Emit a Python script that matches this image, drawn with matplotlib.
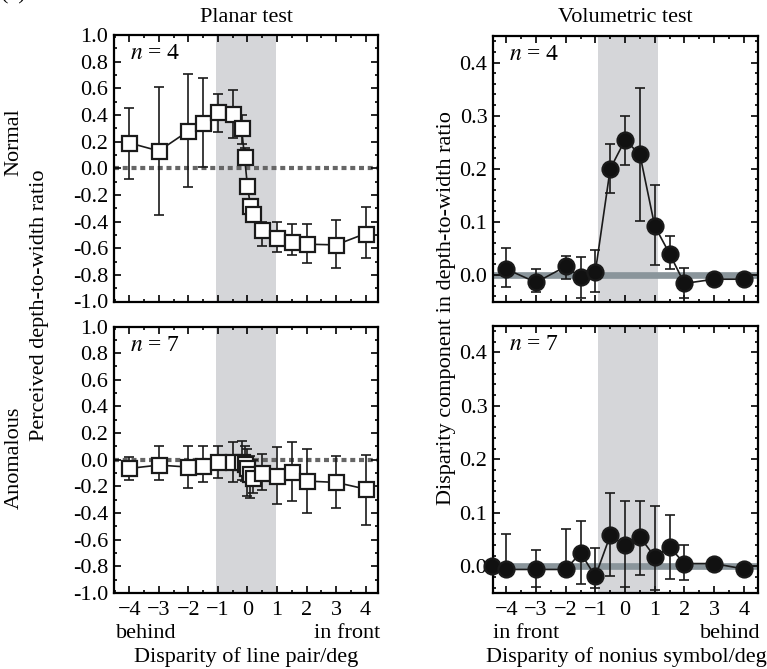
import matplotlib
matplotlib.use('Agg')
import matplotlib.pyplot as plt
from matplotlib.ticker import MultipleLocator, FormatStrFormatter

plt.rcParams['font.family'] = ['Liberation Serif', 'DejaVu Serif']
plt.rcParams['mathtext.fontset'] = 'stix'
plt.rcParams['font.size'] = 16

# planar test (line pair disparity)
planar_x = [-4, -3, -2, -1.5, -1, -0.5, -0.2, -0.1, 0, 0.1, 0.2, 0.5, 1, 1.5, 2, 3, 4]
normal_planar = [0.19, 0.13, 0.28, 0.34, 0.42, 0.41, 0.30, 0.085, -0.135, -0.28, -0.34,
                 -0.46, -0.52, -0.55, -0.57, -0.575, -0.49]
normal_planar_hi = [0.455, 0.61, 0.71, 0.68, 0.56, 0.59, 0.40, 0.15, -0.09, -0.25, -0.31,
                    -0.40, -0.40, -0.42, -0.42, -0.39, -0.29]
normal_planar_lo = [-0.08, -0.35, -0.14, 0.01, 0.275, 0.225, 0.18, 0.03, -0.18, -0.31, -0.37,
                    -0.58, -0.63, -0.65, -0.71, -0.75, -0.675]
anom_planar = [-0.065, -0.04, -0.055, -0.045, -0.02, -0.02, -0.02, -0.03, -0.06, -0.11, -0.14,
               -0.10, -0.12, -0.09, -0.16, -0.17, -0.22]
anom_planar_hi = [0.02, 0.10, 0.10, 0.10, 0.10, 0.13, 0.14, 0.10, 0.08, 0.03, 0.0,
                  0.045, 0.095, 0.13, 0.08, 0.025, 0.035]
anom_planar_lo = [-0.15, -0.15, -0.21, -0.17, -0.14, -0.17, -0.15, -0.16, -0.27, -0.29, -0.25,
                  -0.23, -0.33, -0.31, -0.40, -0.36, -0.49]

# volumetric test (nonius symbol disparity)
vol_x_normal = [-4, -3, -2, -1.5, -1, -0.5, 0, 0.5, 1, 1.5, 2, 3, 4]
normal_vol = [0.011, -0.014, 0.016, -0.004, 0.006, 0.20, 0.254, 0.227, 0.092, 0.04, -0.016,
              -0.008, -0.008]
normal_vol_hi = [0.05, 0.011, 0.036, 0.034, 0.047, 0.247, 0.30, 0.352, 0.17, 0.074, 0.0125,
                 -0.008, -0.008]
normal_vol_lo = [-0.023, -0.033, -0.008, -0.044, -0.033, 0.154, 0.2075, 0.102, 0.019, 0.011,
                 -0.0425, -0.008, -0.008]

vol_x_anom = [-4.5, -4, -3, -2, -1.5, -1, -0.5, 0, 0.5, 1, 1.5, 2, 3, 4]
anom_vol = [0.0, -0.006, -0.006, -0.006, 0.025, -0.019, 0.0575, 0.039, 0.055, 0.0175, 0.036,
            0.005, 0.005, -0.005]
anom_vol_hi = [0.0, 0.061, 0.03, 0.069, 0.084, 0.034, 0.136, 0.122, 0.122, 0.1125, 0.095,
               0.04, 0.005, -0.005]
anom_vol_lo = [0.0, -0.01, -0.039, -0.01, -0.034, -0.04, -0.0175, -0.039, -0.016, -0.044,
               -0.024, -0.025, 0.005, -0.005]

W, H = 767, 669


def box(x0, y0, x1, y1):
    return [x0 / W, 1 - y1 / H, (x1 - x0) / W, (y1 - y0) / H]


def ftext(x, y, s, **kw):
    fig.text(x / W, 1 - y / H, s, **kw)


def style_axes(ax, major, minor, show_x):
    ax.xaxis.set_major_locator(MultipleLocator(1))
    ax.xaxis.set_minor_locator(MultipleLocator(0.5))
    ax.yaxis.set_major_locator(MultipleLocator(major))
    ax.yaxis.set_minor_locator(MultipleLocator(minor))
    ax.yaxis.set_major_formatter(FormatStrFormatter('%.1f'))
    ax.tick_params(which='both', direction='in', top=True, right=True, width=1.2,
                   labelsize=16, pad=4)
    ax.tick_params(which='major', length=5)
    ax.tick_params(which='minor', length=2.5)
    ax.tick_params(axis='x', labelbottom=show_x, pad=6)
    for sp in ax.spines.values():
        sp.set_linewidth(1.6)


def draw(ax, x, y, lo, hi, marker, face, ms):
    yerr = [[v - l for v, l in zip(y, lo)], [h - v for v, h in zip(y, hi)]]
    ax.errorbar(x, y, yerr=yerr, fmt='none', ecolor='#1a1a1a', elinewidth=1.2,
                capsize=3.5, capthick=1.2, zorder=3)
    ax.plot(x, y, color='#1a1a1a', lw=1.2, marker=marker, ms=ms, mfc=face,
            mec='#1a1a1a', mew=1.6, zorder=4, clip_on=False)


fig = plt.figure(figsize=(W / 100, H / 100), dpi=100)

ax_np = fig.add_axes(box(114, 35, 378, 301.5))
ax_ap = fig.add_axes(box(114, 326.5, 378, 593))
ax_nv = fig.add_axes(box(493, 36, 758, 301.5))
ax_av = fig.add_axes(box(493, 325.5, 758, 593))

for ax, y, lo, hi, show in [(ax_np, normal_planar, normal_planar_lo, normal_planar_hi, False),
                            (ax_ap, anom_planar, anom_planar_lo, anom_planar_hi, True)]:
    ax.axvspan(-1.05, 0.95, color='#d5d6d9', lw=0, zorder=0)
    ax.axhline(0, color='#666666', lw=3.0, ls=(0, (1.2, 0.9)), zorder=1)
    draw(ax, planar_x, y, lo, hi, 's', 'white', 10.8)
    ax.set_xlim(-4.52, 4.42)
    ax.set_ylim(-1.0, 1.0)
    style_axes(ax, 0.2, 0.1, show)

for ax, x, y, lo, hi, show in [(ax_nv, vol_x_normal, normal_vol, normal_vol_lo, normal_vol_hi, False),
                               (ax_av, vol_x_anom, anom_vol, anom_vol_lo, anom_vol_hi, True)]:
    ax.axvspan(-0.9, 1.1, color='#d5d6d9', lw=0, zorder=0)
    ax.axhline(0, color='#8a959b', lw=4.8, zorder=1)
    draw(ax, x, y, lo, hi, 'o', '#111111', 11.5)
    ax.set_xlim(-4.45, 4.48)
    ax.set_ylim(-0.05, 0.45)
    style_axes(ax, 0.1, 0.02, show)

for ax, n in [(ax_np, 4), (ax_ap, 7), (ax_nv, 4), (ax_av, 7)]:
    ax.text(0.06, 0.93, r'$n$ = ' + str(n), transform=ax.transAxes, fontsize=17,
            ha='left', va='center')

ftext(246, 17, 'Planar test', ha='center', va='center', fontsize=16)
ftext(625, 17, 'Volumetric test', ha='center', va='center', fontsize=16)
ftext(14, 142, 'Normal', rotation=90, ha='center', va='center', fontsize=16)
ftext(14, 458, 'Anomalous', rotation=90, ha='center', va='center', fontsize=16)
ftext(40, 305, 'Perceived depth-to-width ratio', rotation=90, ha='center', va='center',
      fontsize=16)
ftext(446, 308, 'Disparity component in depth-to-width ratio', rotation=90, ha='center',
      va='center', fontsize=16)

ftext(116, 633, 'behind', ha='left', va='center', fontsize=16)
ftext(380, 633, 'in front', ha='right', va='center', fontsize=16)
ftext(246, 657, 'Disparity of line pair/deg', ha='center', va='center', fontsize=16)
ftext(493, 633, 'in front', ha='left', va='center', fontsize=16)
ftext(760, 633, 'behind', ha='right', va='center', fontsize=16)
ftext(626, 657, 'Disparity of nonius symbol/deg', ha='center', va='center', fontsize=16)

ftext(1, -5, '(a)', ha='left', va='center', fontsize=16)

fig.savefig('out.png', dpi=100)
